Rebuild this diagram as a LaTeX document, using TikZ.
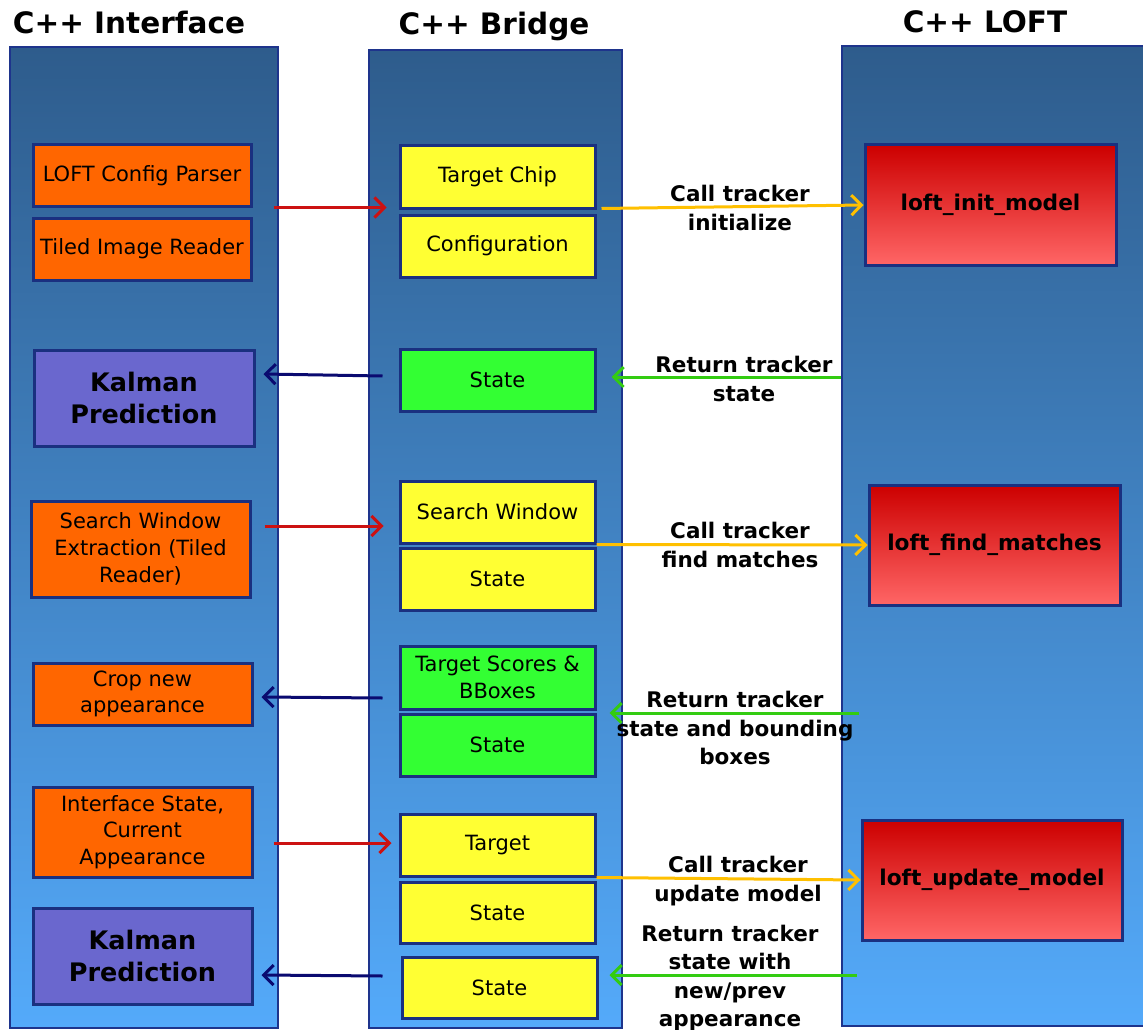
\documentclass[tikz,border=0pt]{standalone}
\usepackage{fontspec}
\setmainfont{DejaVu Sans}
\usetikzlibrary{arrows.meta,calc}
\definecolor{ptop}{RGB}{46,92,140}
\definecolor{pbot}{RGB}{84,170,250}
\definecolor{pborder}{RGB}{30,52,140}
\definecolor{bborder}{RGB}{26,48,128}
\definecolor{orng}{RGB}{255,102,0}
\definecolor{yel}{RGB}{255,255,51}
\definecolor{grn}{RGB}{51,255,51}
\definecolor{purp}{RGB}{106,103,206}
\definecolor{rtop}{RGB}{204,0,0}
\definecolor{rbot}{RGB}{255,102,102}
\definecolor{ared}{RGB}{204,17,17}
\definecolor{ayel}{RGB}{255,192,0}
\definecolor{anavy}{RGB}{10,10,112}
\definecolor{agrn}{RGB}{51,204,17}
\newcommand\boxfont{\fontsize{21pt}{26.7pt}\selectfont}
\newcommand\kalfont{\fontsize{25.5pt}{32.5pt}\selectfont\bfseries}
\newcommand\loftfont{\fontsize{21.7pt}{28pt}\selectfont\bfseries}
\newcommand\labfont{\fontsize{21.5pt}{28.3pt}\selectfont\bfseries}
\newcommand\titfont{\fontsize{29.5pt}{34pt}\selectfont\bfseries}
\tikzset{
  panel/.style={draw=pborder, line width=2.2pt, top color=ptop, bottom color=pbot, inner sep=0pt},
  bx/.style={draw=bborder, line width=3pt, inner sep=0pt, align=center, font=\boxfont, text=black},
  orangebox/.style={bx, fill=orng},
  yellowbox/.style={bx, fill=yel},
  greenbox/.style={bx, fill=grn},
  kalbox/.style={bx, fill=purp, font=\kalfont},
  loftbox/.style={bx, top color=rtop, bottom color=rbot, font=\loftfont},
  lab/.style={align=center, font=\labfont, text=black, inner sep=0pt},
  title/.style={font=\titfont, text=black, inner sep=0pt, anchor=base},
  arr/.style={line width=3pt, -{Straight Barb[length=10pt,width=20pt,line width=3pt]}},
  redarrow/.style={arr, draw=ared},
  yelarrow/.style={arr, draw=ayel},
  navyarrow/.style={arr, draw=anavy},
  grnarrow/.style={arr, draw=agrn},
}
% \bxat{name}{style}{x1}{y1}{x2}{y2}{text}
\newcommand\bxat[7]{\node[#2, minimum width={#5-#3}, minimum height={#6-#4}] (#1) at ({(#3+#5)/2},{(#4+#6)/2}) {#7};}
\begin{document}
\begin{tikzpicture}[x=1pt,y=-1pt]
\useasboundingbox (0,0) rectangle (1143,1030);
\clip (0,0) rectangle (1143,1030);
\fill[white] (0,0) rectangle (1143,1030);
% panels
\bxat{ifp}{panel}{10}{47}{278}{1028}{}
\bxat{brp}{panel}{369}{50}{622}{1028}{}
\bxat{loftp}{panel}{842}{46}{1150}{1026}{}
% titles
\node[title] (t1) at (129,33.5) {C++ Interface};
\node[title] (t2) at (494,35) {C++ Bridge};
\node[title] (t3) at (985,32.5) {C++ LOFT};
% interface boxes
\bxat{lcp}{orangebox}{33}{145}{251}{206}{LOFT Config Parser}
\bxat{tir}{orangebox}{33}{218}{251}{280}{Tiled Image Reader}
\bxat{kal1}{kalbox}{34}{350}{254}{446}{Kalman\\Prediction}
\bxat{swe}{orangebox}{31}{501}{250}{597}{Search Window\\Extraction (Tiled\\Reader)}
\bxat{crop}{orangebox}{33}{663}{252}{725}{Crop new\\appearance}
\bxat{ics}{orangebox}{33}{787}{252}{877}{Interface State,\\Current\\Appearance}
\bxat{kal2}{kalbox}{33}{908}{252}{1004}{Kalman\\Prediction}
% bridge boxes
\bxat{tc}{yellowbox}{400}{146}{595}{208}{Target Chip}
\bxat{cfg}{yellowbox}{400}{215}{595}{277}{Configuration}
\bxat{st1}{greenbox}{400}{349}{595}{411}{State}
\bxat{sw}{yellowbox}{400}{481}{595}{543}{Search Window}
\bxat{st2}{yellowbox}{400}{548}{595}{610}{State}
\bxat{tsb}{greenbox}{400}{646}{595}{709}{Target Scores \&\\BBoxes}
\bxat{st3}{greenbox}{400}{714}{595}{776}{State}
\bxat{tgt}{yellowbox}{400}{814}{595}{876}{Target}
\bxat{st4}{yellowbox}{400}{882}{595}{943}{State}
\bxat{st5}{yellowbox}{402}{957}{597}{1018}{State}
% loft boxes
\bxat{lim}{loftbox}{865}{145}{1116}{265}{loft\_init\_model}
\bxat{lfm}{loftbox}{869}{485}{1120}{605}{loft\_find\_matches}
\bxat{lum}{loftbox}{862}{820}{1122}{940}{loft\_update\_model}
% labels
\node[lab] (l1) at (740,208) {Call tracker\\initialize};
\node[lab] (l2) at (744,379) {Return tracker\\state};
\node[lab] (l3) at (740,545) {Call tracker\\find matches};
\node[lab] (l4) at (735,728) {Return tracker\\state and bounding\\boxes};
\node[lab] (l5) at (738,881) {Call tracker\\update model};
\node[lab] (l6) at (730,978) {Return tracker\\state with\\new/prev\\appearance};
% arrows
\draw[redarrow] ([xshift=21pt]lcp.south east) -- ([xshift=-12pt,yshift=2pt]tc.south west);
\draw[yelarrow] ([xshift=5pt,yshift=1pt]tc.south east) -- (lim.west);
\draw[navyarrow] ([xshift=-16pt,yshift=4pt]st1.west) -- ([xshift=8pt,yshift=24pt]kal1.east);
\draw[grnarrow] ([yshift=3pt]loftp.west |- st1.east) -- ([xshift=15pt,yshift=3pt]st1.east);
\draw[redarrow] ([xshift=13pt,yshift=23pt]swe.east) -- ([xshift=-15pt,yshift=-14pt]sw.west);
\draw[yelarrow] (sw.south east) -- (lfm.west);
\draw[navyarrow] ([xshift=-16pt,yshift=-20.5pt]tsb.west) -- ([xshift=8pt,yshift=-3pt]crop.east);
\draw[grnarrow] ([xshift=18pt,yshift=-2.5pt]loftp.west |- tsb.south east) -- ([xshift=13pt,yshift=-2.5pt]tsb.south east);
\draw[redarrow] ([xshift=20pt,yshift=-11pt]ics.east) -- ([xshift=-7pt,yshift=2pt]tgt.west);
\draw[yelarrow] (tgt.south east) -- (lum.west);
\draw[navyarrow] ([xshift=-18pt,yshift=11.5pt]st5.west) -- ([xshift=8pt,yshift=-19pt]kal2.east);
\draw[grnarrow] ([xshift=16pt,yshift=12.5pt]loftp.west |- st5.east) -- ([xshift=11pt,yshift=12.5pt]st5.east);
\end{tikzpicture}
\end{document}
